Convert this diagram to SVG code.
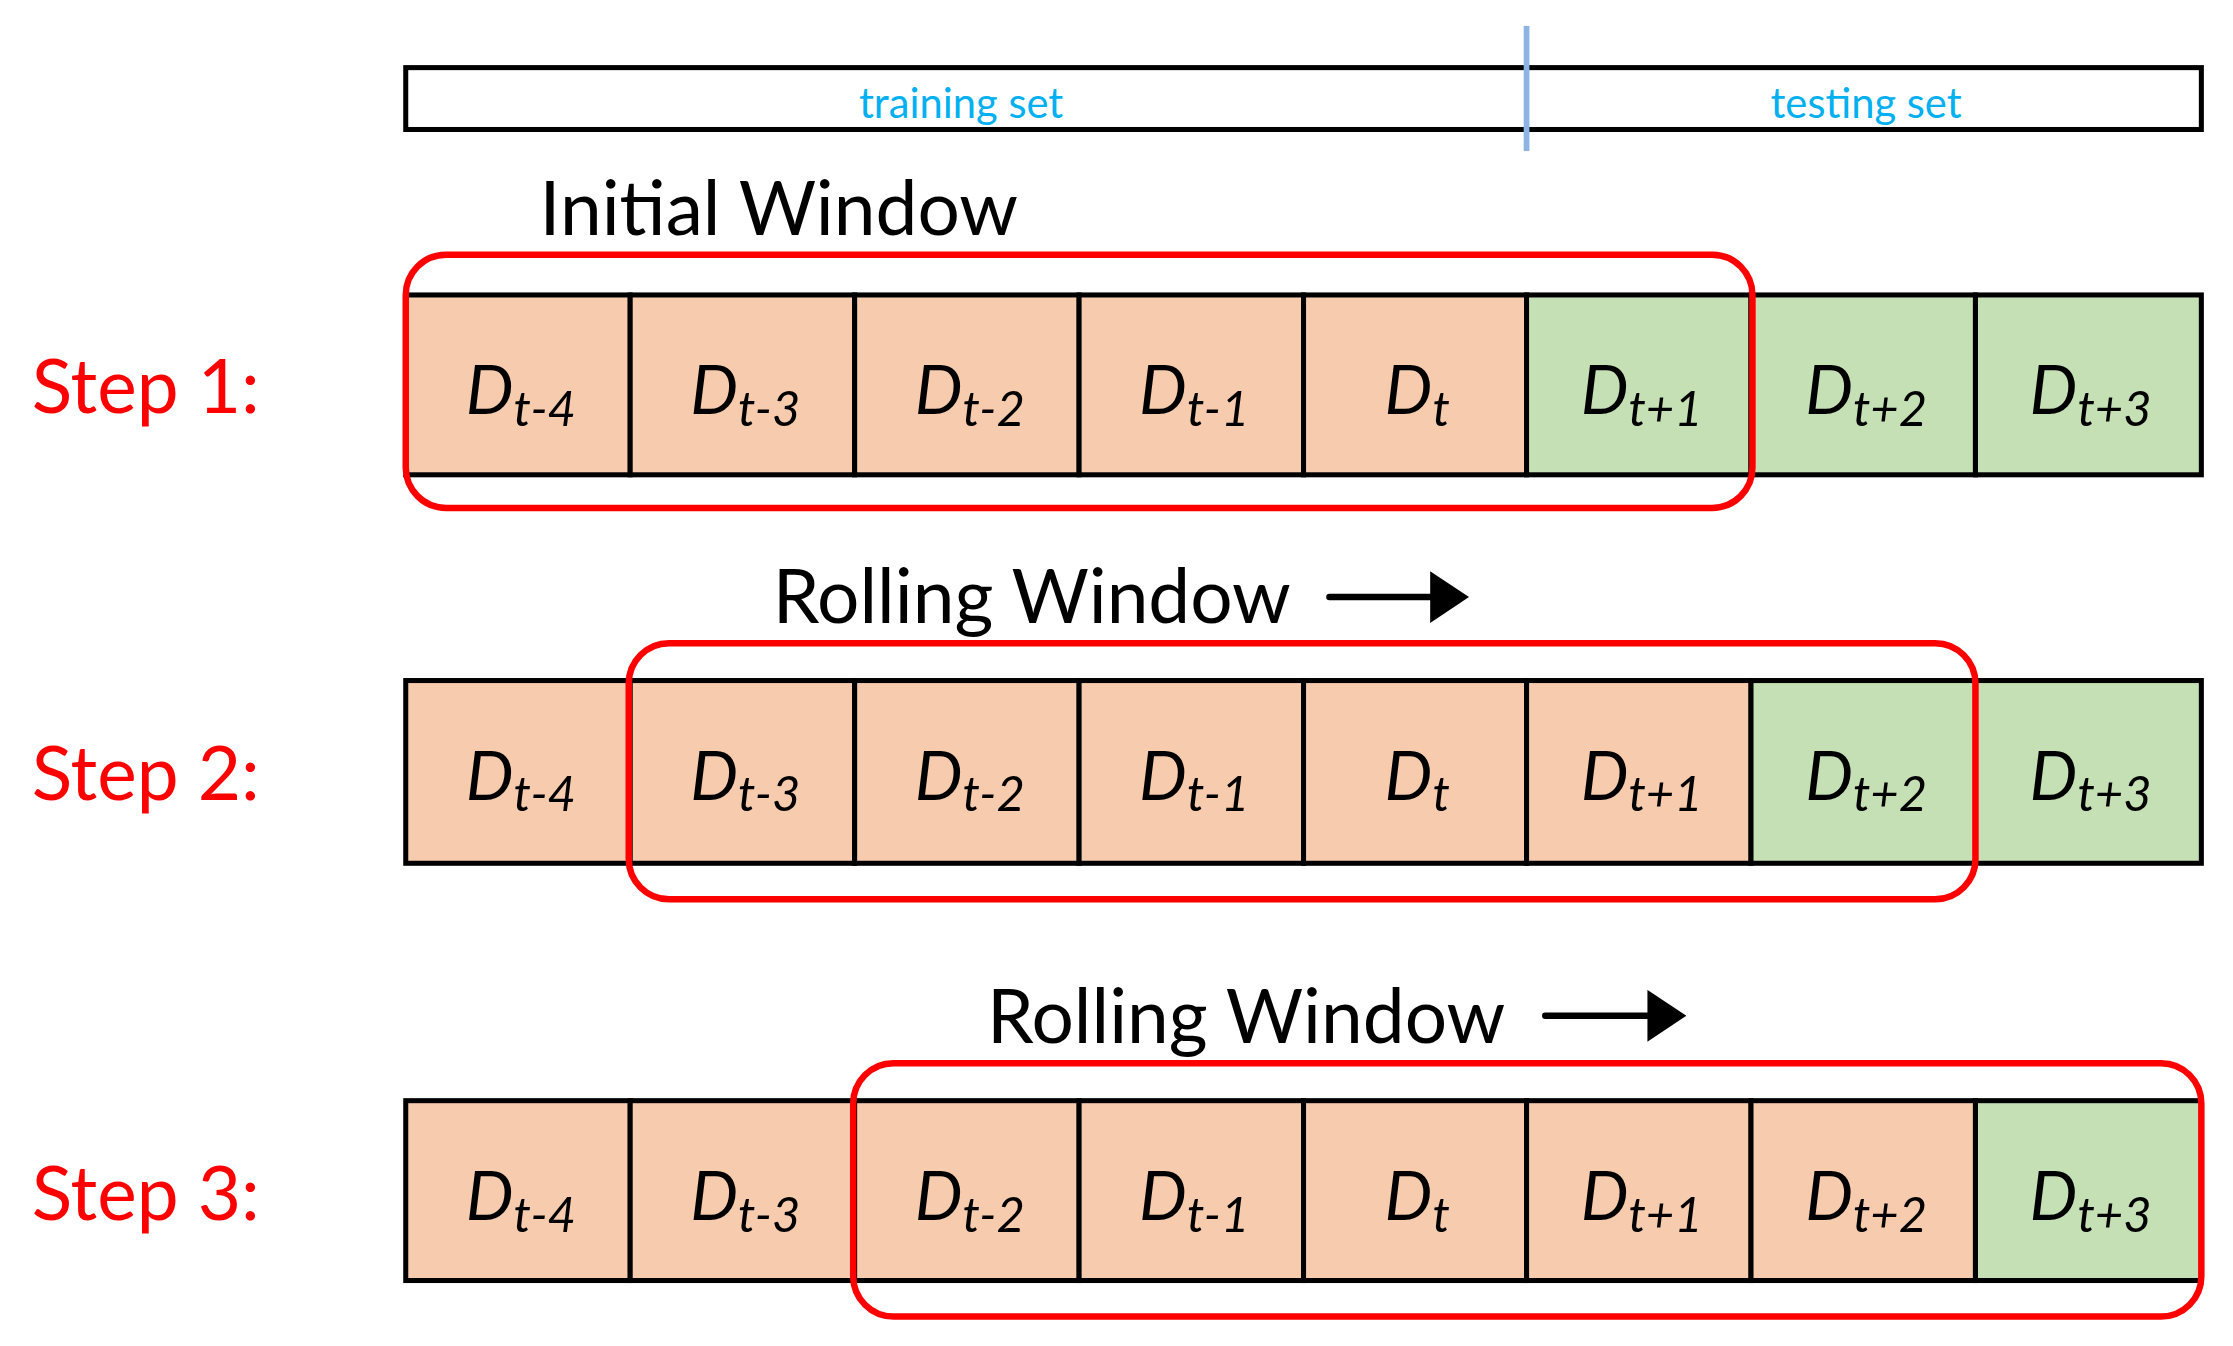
<svg xmlns="http://www.w3.org/2000/svg" width="2233" height="1346" viewBox="0 0 2233 1346">
<style>
.cell{stroke:#000;stroke-width:3.5}
.tr{fill:#f7cbad}
.te{fill:#c5e0b4}
.win{fill:none;stroke:#ff0000;stroke-width:4.5}
.lbl{font-family:Lato,"Open Sans",sans-serif;font-style:italic;font-size:47px;fill:#000;text-anchor:middle}
.sub{font-size:34px}
.step{font-family:Lato,"Open Sans",sans-serif;font-size:52px;fill:#ff0000}
.title{font-family:Lato,"Open Sans",sans-serif;font-size:52px;fill:#000}
.set{font-family:Lato,"Open Sans",sans-serif;font-size:29px;fill:#00b0f0;text-anchor:middle}
</style>
<defs>
<marker id="ah" markerWidth="6" markerHeight="8" refX="4" refY="4" orient="auto" markerUnits="strokeWidth"><path d="M0,0 L6,4 L0,8 Z" fill="#000"/></marker>
</defs>
<rect width="2233" height="1346" fill="#fff"/>
<g transform="scale(1.43879)">
<g id="split">
<rect x="282" y="47" width="1248" height="43" fill="#fff" stroke="#000" stroke-width="3.5"/>
<line x1="1061" y1="18" x2="1061" y2="105" stroke="#8eb4e3" stroke-width="4"/>
<text class="set" x="668" y="82">training set</text>
<text class="set" x="1297" y="82">testing set</text>
</g>
<g id="labels">
<text class="title" x="375" y="163">Initial Window</text>
<text class="title" x="537" y="433">Rolling Window</text>
<text class="title" x="686" y="725">Rolling Window</text>
<text class="step" x="22" y="287">Step 1:</text>
<text class="step" x="22" y="556">Step 2:</text>
<text class="step" x="22" y="848">Step 3:</text>
</g>
<g id="row1">
<rect class="cell tr" x="282" y="205" width="156" height="125"/>
<rect class="cell tr" x="438" y="205" width="156" height="125"/>
<rect class="cell tr" x="594" y="205" width="156" height="125"/>
<rect class="cell tr" x="750" y="205" width="156" height="125"/>
<rect class="cell tr" x="906" y="205" width="155" height="125"/>
<rect class="cell te" x="1061" y="205" width="156" height="125"/>
<rect class="cell te" x="1217" y="205" width="156" height="125"/>
<rect class="cell te" x="1373" y="205" width="157" height="125"/>
<text class="lbl" x="362" y="288">D<tspan class="sub" dy="8">t-4</tspan></text>
<text class="lbl" x="518" y="288">D<tspan class="sub" dy="8">t-3</tspan></text>
<text class="lbl" x="674" y="288">D<tspan class="sub" dy="8">t-2</tspan></text>
<text class="lbl" x="830" y="288">D<tspan class="sub" dy="8">t-1</tspan></text>
<text class="lbl" x="985" y="288">D<tspan class="sub" dy="8">t</tspan></text>
<text class="lbl" x="1141" y="288">D<tspan class="sub" dy="8">t+1</tspan></text>
<text class="lbl" x="1297" y="288">D<tspan class="sub" dy="8">t+2</tspan></text>
<text class="lbl" x="1453" y="288">D<tspan class="sub" dy="8">t+3</tspan></text>
</g>
<g id="row2">
<rect class="cell tr" x="282" y="473" width="156" height="127"/>
<rect class="cell tr" x="438" y="473" width="156" height="127"/>
<rect class="cell tr" x="594" y="473" width="156" height="127"/>
<rect class="cell tr" x="750" y="473" width="156" height="127"/>
<rect class="cell tr" x="906" y="473" width="155" height="127"/>
<rect class="cell tr" x="1061" y="473" width="156" height="127"/>
<rect class="cell te" x="1217" y="473" width="156" height="127"/>
<rect class="cell te" x="1373" y="473" width="157" height="127"/>
<text class="lbl" x="362" y="556">D<tspan class="sub" dy="8">t-4</tspan></text>
<text class="lbl" x="518" y="556">D<tspan class="sub" dy="8">t-3</tspan></text>
<text class="lbl" x="674" y="556">D<tspan class="sub" dy="8">t-2</tspan></text>
<text class="lbl" x="830" y="556">D<tspan class="sub" dy="8">t-1</tspan></text>
<text class="lbl" x="985" y="556">D<tspan class="sub" dy="8">t</tspan></text>
<text class="lbl" x="1141" y="556">D<tspan class="sub" dy="8">t+1</tspan></text>
<text class="lbl" x="1297" y="556">D<tspan class="sub" dy="8">t+2</tspan></text>
<text class="lbl" x="1453" y="556">D<tspan class="sub" dy="8">t+3</tspan></text>
</g>
<g id="row3">
<rect class="cell tr" x="282" y="765" width="156" height="125"/>
<rect class="cell tr" x="438" y="765" width="156" height="125"/>
<rect class="cell tr" x="594" y="765" width="156" height="125"/>
<rect class="cell tr" x="750" y="765" width="156" height="125"/>
<rect class="cell tr" x="906" y="765" width="155" height="125"/>
<rect class="cell tr" x="1061" y="765" width="156" height="125"/>
<rect class="cell tr" x="1217" y="765" width="156" height="125"/>
<rect class="cell te" x="1373" y="765" width="157" height="125"/>
<text class="lbl" x="362" y="848">D<tspan class="sub" dy="8">t-4</tspan></text>
<text class="lbl" x="518" y="848">D<tspan class="sub" dy="8">t-3</tspan></text>
<text class="lbl" x="674" y="848">D<tspan class="sub" dy="8">t-2</tspan></text>
<text class="lbl" x="830" y="848">D<tspan class="sub" dy="8">t-1</tspan></text>
<text class="lbl" x="985" y="848">D<tspan class="sub" dy="8">t</tspan></text>
<text class="lbl" x="1141" y="848">D<tspan class="sub" dy="8">t+1</tspan></text>
<text class="lbl" x="1297" y="848">D<tspan class="sub" dy="8">t+2</tspan></text>
<text class="lbl" x="1453" y="848">D<tspan class="sub" dy="8">t+3</tspan></text>
</g>
<g id="windows">
<rect class="win" x="282" y="177" width="936" height="176" rx="28"/>
<rect class="win" x="437" y="447" width="936" height="178" rx="28"/>
<rect class="win" x="593" y="739" width="937" height="176" rx="28"/>
</g>
<g id="connectors">
<line x1="924" y1="415" x2="1012" y2="415" stroke="#000" stroke-width="4.5" stroke-linecap="round" marker-end="url(#ah)"/>
<line x1="1074" y1="706" x2="1163" y2="706" stroke="#000" stroke-width="4.5" stroke-linecap="round" marker-end="url(#ah)"/>
</g>
</g>
</svg>
